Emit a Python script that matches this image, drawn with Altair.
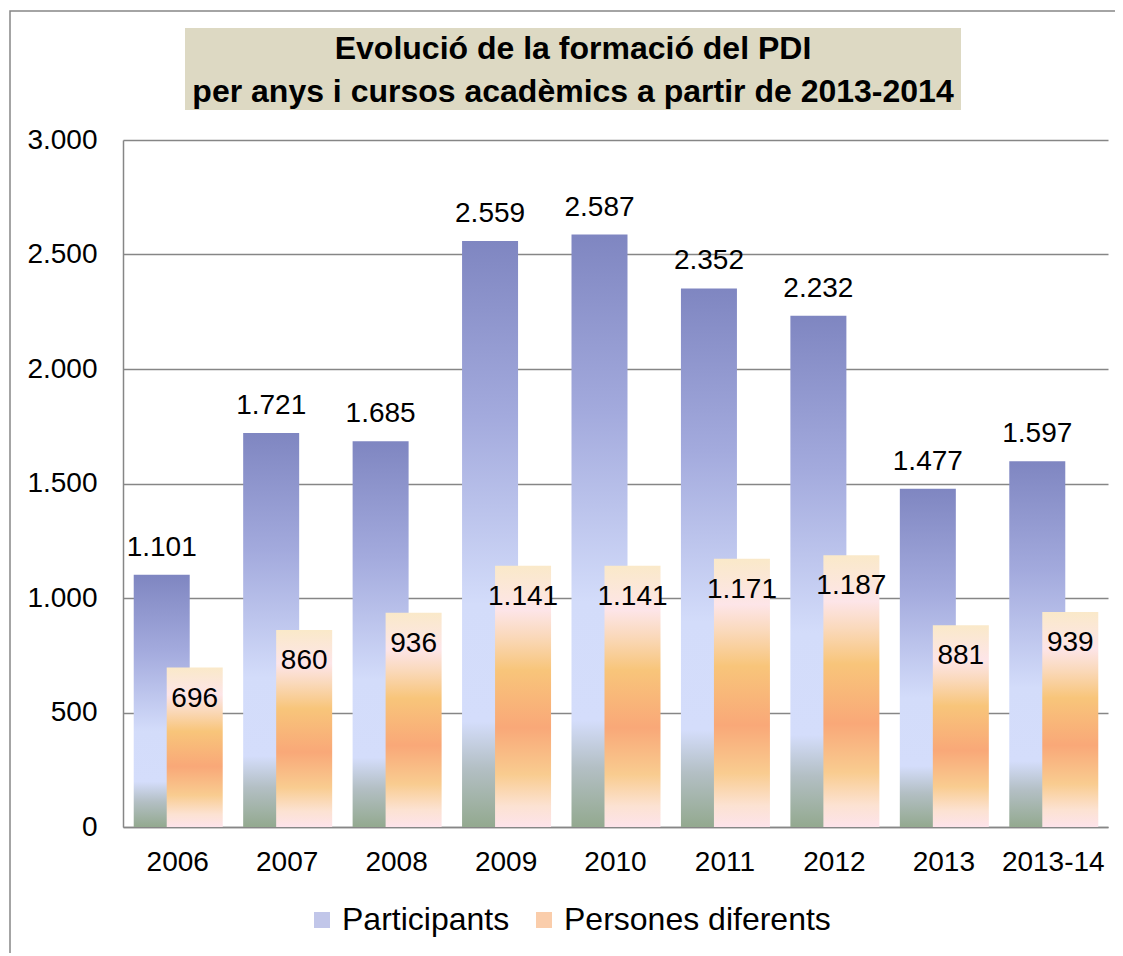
import altair as alt
import pandas as pd

categories = ["2006", "2007", "2008", "2009", "2010", "2011", "2012", "2013", "2013-14"]
participants = [1101, 1721, 1685, 2559, 2587, 2352, 2232, 1477, 1597]
persones = [696, 860, 936, 1141, 1141, 1171, 1187, 881, 939]
series_names = ["Participants", "Persones diferents"]
title_lines = ["Evolució de la formació del PDI", "per anys i cursos acadèmics a partir de 2013-2014"]

df = pd.DataFrame({"cat": categories, "p": participants, "d": persones})

FONT = "Liberation Sans"

grad_p = alt.LinearGradient(
    gradient="linear", x1=0, x2=0, y1=0, y2=1,
    stops=[
        alt.GradientStop(offset=0.0, color="#7f86c1"),
        alt.GradientStop(offset=0.3, color="#a3aadd"),
        alt.GradientStop(offset=0.62, color="#d3dcfa"),
        alt.GradientStop(offset=0.82, color="#d4ddfb"),
        alt.GradientStop(offset=0.9, color="#b3bfc4"),
        alt.GradientStop(offset=1.0, color="#93a98f"),
    ],
)
grad_d = alt.LinearGradient(
    gradient="linear", x1=0, x2=0, y1=0, y2=1,
    stops=[
        alt.GradientStop(offset=0.0, color="#fae9c9"),
        alt.GradientStop(offset=0.17, color="#fde5e8"),
        alt.GradientStop(offset=0.27, color="#fad9bb"),
        alt.GradientStop(offset=0.4, color="#f8c57a"),
        alt.GradientStop(offset=0.62, color="#f9a878"),
        alt.GradientStop(offset=0.8, color="#f9cc90"),
        alt.GradientStop(offset=0.92, color="#fce2d2"),
        alt.GradientStop(offset=1.0, color="#fde3ea"),
    ],
)

xenc = alt.X("cat:N", sort=categories, title=None,
             scale=alt.Scale(paddingInner=0, paddingOuter=0),
             axis=alt.Axis(labelAngle=0, labelFontSize=28, labelFont=FONT, labelColor="#000000",
                           labelPadding=21, ticks=False, domainColor="#868686", domainWidth=1.5))
yscale = alt.Scale(domain=[0, 3000])
yaxis = alt.Axis(values=[0, 500, 1000, 1500, 2000, 2500, 3000], labelFontSize=28, labelFont=FONT,
                 labelColor="#000000", labelPadding=26, ticks=False, domainColor="#868686",
                 domainWidth=1.5, gridColor="#868686", gridWidth=1.5,
                 labelExpr="replace(format(datum.value, ','), ',', '.')")

base = alt.Chart(df)

frame = base.mark_rect(fill="transparent", stroke="#868686", strokeWidth=1.5).encode(
    x=alt.value(-113), x2=alt.value(994), y=alt.value(-129), y2=alt.value(840)
).transform_filter("datum.cat == '2006'")

title_box = base.mark_rect(fill="#ddd9c3").encode(
    x=alt.value(62), x2=alt.value(838), y=alt.value(-112), y2=alt.value(-30)
).transform_filter("datum.cat == '2006'")

title_text = base.mark_text(fontSize=32, fontWeight="bold", font=FONT, color="#000000",
                            lineHeight=43, baseline="middle").encode(
    x=alt.value(450), y=alt.value(-91), text=alt.value(title_lines)
).transform_filter("datum.cat == '2006'")

bars_p = base.mark_bar(width=56, xOffset=-16, fill=grad_p).encode(
    x=xenc, y=alt.Y("p:Q", scale=yscale, axis=yaxis, title=None)
)
bars_d = base.mark_bar(width=56, xOffset=17, fill=grad_d).encode(
    x=xenc, y=alt.Y("d:Q")
)

lab_p = base.transform_calculate(
    t="replace(format(datum.p, ','), ',', '.')"
).mark_text(fontSize=28, font=FONT, color="#000000", dy=-27, xOffset=-16, baseline="middle").encode(
    x=xenc, y=alt.Y("p:Q"), text="t:N"
)
lab_d = base.transform_calculate(
    t="replace(format(datum.d, ','), ',', '.')"
).mark_text(fontSize=28, font=FONT, color="#000000", dy=31, xOffset=17, baseline="middle").encode(
    x=xenc, y=alt.Y("d:Q"), text="t:N"
)

legend_layer = base.transform_fold(["p", "d"], as_=["k", "v"]).transform_calculate(
    s="datum.k == 'p' ? 'Participants' : 'Persones diferents'"
).transform_filter("false").mark_square().encode(
    color=alt.Color("s:N", scale=alt.Scale(domain=series_names, range=["#a7aee0", "#f8b888"]),
                    legend=alt.Legend(title=None, orient="none", legendX=183, legendY=764,
                                      direction="horizontal", symbolType="square", symbolSize=256,
                                      labelFontSize=32, labelFont=FONT, labelColor="#000000",
                                      labelLimit=400, columnPadding=18, symbolStrokeWidth=0,
                                      labelOffset=4))
)

chart = alt.layer(frame, title_box, title_text, bars_p, bars_d, lab_p, lab_d, legend_layer).properties(
    width=985, height=687,
    autosize=alt.AutoSizeParams(type="none"),
    padding={"left": 115, "top": 132, "right": 7, "bottom": 126},
).configure_view(stroke=None).configure_axis(grid=True).configure_axisX(grid=False)

chart.save("out.html", embed_options={"renderer": "svg", "actions": False})
